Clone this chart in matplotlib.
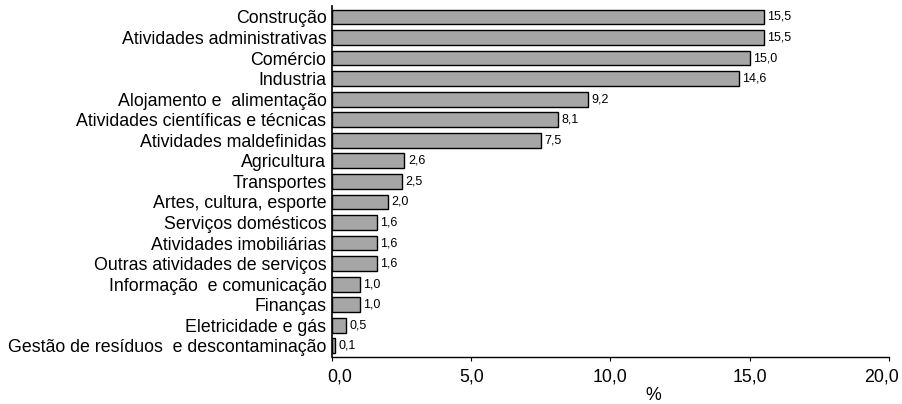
import matplotlib.pyplot as plt
import matplotlib.transforms as mtransforms
import numpy as np

plt.rcParams['font.family'] = ['Liberation Sans', 'DejaVu Sans']

# Setores e percentuais
setores = [
    'Construção',
    'Atividades administrativas',
    'Comércio',
    'Industria',
    'Alojamento e  alimentação',
    'Atividades científicas e técnicas',
    'Atividades maldefinidas',
    'Agricultura',
    'Transportes',
    'Artes, cultura, esporte',
    'Serviços domésticos',
    'Atividades imobiliárias',
    'Outras atividades de serviços',
    'Informação  e comunicação',
    'Finanças',
    'Eletricidade e gás',
    'Gestão de resíduos  e descontaminação',
]
valores = [15.5, 15.5, 15.0, 14.6, 9.2, 8.1, 7.5, 2.6, 2.5, 2.0,
           1.6, 1.6, 1.6, 1.0, 1.0, 0.5, 0.1]
xticks = [0, 5, 10, 15, 20]

fig = plt.figure(figsize=(9.02, 4.04), dpi=100)
ax = fig.add_axes([0.368, 0.116, 0.6176, 0.87])

y = np.arange(len(setores))
bars = ax.barh(y, valores, height=0.72, color='#a6a6a6', edgecolor='black', linewidth=1)

for b, v in zip(bars, valores):
    ax.annotate(f'{v:.1f}'.replace('.', ','), (b.get_width(), b.get_y() + b.get_height() / 2),
                xytext=(2.5, 0), textcoords='offset points', va='center', ha='left', fontsize=9)

ax.set_ylim(16.55, -0.55)
ax.set_xlim(0, 20)
ax.set_yticks(y)
ax.set_yticklabels(setores, fontsize=12.75)
ax.tick_params(axis='y', length=0, pad=4)
ax.set_xticks(xticks)
ax.set_xticklabels([f'{t:.1f}'.replace('.', ',') for t in xticks], fontsize=12.75)
ax.tick_params(axis='x', length=3, direction='out', pad=5)
ax.set_xlabel('%', fontsize=12.75, labelpad=0)
ax.xaxis.set_label_coords(0.577, -0.085)

# rótulos das pontas puxados para dentro
lbls = ax.get_xticklabels()
lbls[0].set_transform(lbls[0].get_transform() + mtransforms.ScaledTranslation(0.08, 0, fig.dpi_scale_trans))
lbls[-1].set_transform(lbls[-1].get_transform() + mtransforms.ScaledTranslation(-0.08, 0, fig.dpi_scale_trans))

for s in ['top', 'right']:
    ax.spines[s].set_visible(False)
ax.spines['left'].set_linewidth(1.2)
ax.spines['bottom'].set_linewidth(1)

fig.savefig('out.png', dpi=100)
